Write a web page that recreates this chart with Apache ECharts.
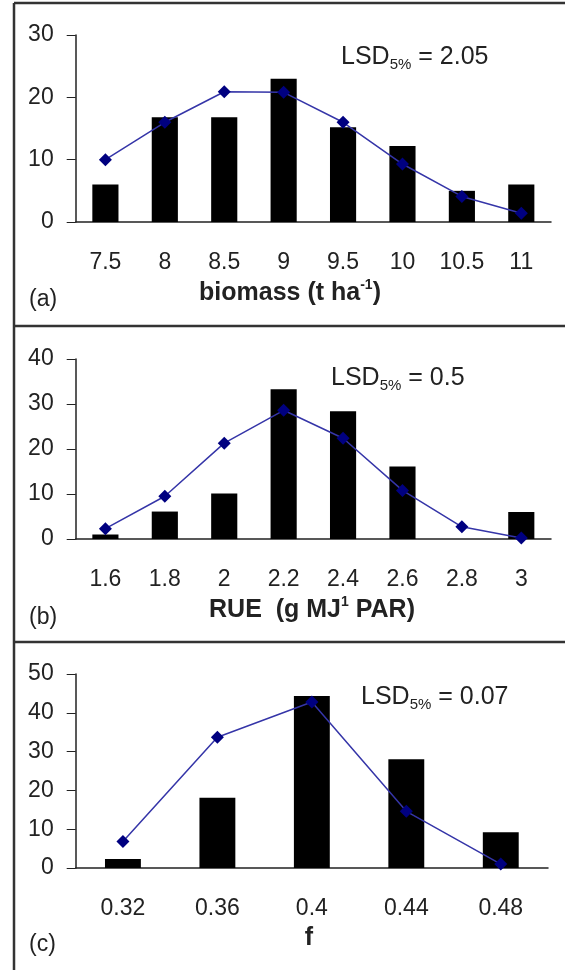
<!DOCTYPE html>
<html>
<head>
<meta charset="utf-8">
<script src="https://cdn.jsdelivr.net/npm/echarts@6/dist/echarts.min.js"></script>
<style>
  html, body { margin: 0; padding: 0; background: #fff; }
  #chart { width: 565px; height: 970px; }
</style>
</head>
<body>
<div id="chart"></div>
<script>
// (a) biomass
const catsA = ['7.5', '8', '8.5', '9', '9.5', '10', '10.5', '11']
const barsA = [6, 16.8, 16.8, 23, 15.2, 12.2, 5, 6]
const lineA = [10, 16, 20.9, 20.8, 16, 9.3, 4.1, 1.4]

// (b) RUE
const catsB = ['1.6', '1.8', '2', '2.2', '2.4', '2.6', '2.8', '3']
const barsB = [1, 6.1, 10.1, 33.3, 28.4, 16.1, 0, 6]
const lineB = [2.3, 9.5, 21.3, 28.6, 22.4, 10.8, 2.7, 0.2]

// (c) f
const catsC = ['0.32', '0.36', '0.4', '0.44', '0.48']
const barsC = [2.3, 18.1, 44.3, 28, 9.2]
const lineC = [6.8, 33.7, 42.8, 14.6, 1]

const yMax = [30, 40, 50]
const lsd = ['2.05', '0.5', '0.07']

const font = 'Liberation Sans, Arial, sans-serif'
const axisColor = '#222'

const chart = echarts.init(document.getElementById('chart'))

function xAxisFor(idx, cats) {
  return {
    type: 'category',
    gridIndex: idx,
    data: cats,
    axisTick: { show: false },
    axisLine: { lineStyle: { color: axisColor, width: 1.5 } },
    axisLabel: { margin: 29, fontSize: 23, fontFamily: font, color: axisColor }
  }
}

function yAxisFor(idx, max) {
  return {
    type: 'value',
    gridIndex: idx,
    min: 0,
    max: max,
    interval: 10,
    splitLine: { show: false },
    axisLine: { show: true, lineStyle: { color: axisColor, width: 1.5 } },
    axisTick: { show: true, length: 9, lineStyle: { color: axisColor } },
    axisLabel: { margin: 22, fontSize: 23, fontFamily: font, color: axisColor }
  }
}

function barSeries(idx, data, width) {
  return {
    type: 'bar',
    xAxisIndex: idx,
    yAxisIndex: idx,
    data: data,
    barWidth: width,
    itemStyle: { color: '#000' },
    silent: true
  }
}

function lineSeries(idx, data) {
  return {
    type: 'line',
    xAxisIndex: idx,
    yAxisIndex: idx,
    data: data,
    symbol: 'diamond',
    symbolSize: 13,
    lineStyle: { color: '#3535a8', width: 1.5 },
    itemStyle: { color: '#000080' },
    z: 5,
    silent: true
  }
}

function txt(x, y, text, opts) {
  return {
    type: 'text',
    x: x,
    y: y,
    style: Object.assign({
      text: text,
      fontFamily: font,
      fontSize: 23,
      fill: axisColor,
      align: 'left',
      verticalAlign: 'middle'
    }, opts || {})
  }
}

const lsdRich = {
  m: { fontSize: 25, fontFamily: font, color: axisColor, lineHeight: 30, verticalAlign: 'middle' },
  s: { fontSize: 15, fontFamily: font, color: axisColor, lineHeight: 30, verticalAlign: 'bottom' }
}
const titleRich = {
  t: { fontSize: 25, fontWeight: 'bold', fontFamily: font, color: '#111', lineHeight: 30, verticalAlign: 'middle' },
  p: { fontSize: 14, fontWeight: 'bold', fontFamily: font, color: '#111', lineHeight: 30, verticalAlign: 'top' }
}

function lsdText(x, y, val) {
  return txt(x, y, '{m|LSD}{s|5%}{m| = ' + val + '}', { rich: lsdRich })
}

const frame = { stroke: '#333', lineWidth: 2.5 }

const option = {
  animation: false,
  grid: [
    { left: 75.7, right: 14, top: 35, height: 187 },
    { left: 75.7, right: 14, top: 359, height: 180 },
    { left: 75.7, right: 17, top: 674, height: 194 }
  ],
  xAxis: [xAxisFor(0, catsA), xAxisFor(1, catsB), xAxisFor(2, catsC)],
  yAxis: [yAxisFor(0, yMax[0]), yAxisFor(1, yMax[1]), yAxisFor(2, yMax[2])],
  series: [
    barSeries(0, barsA, '44%'), lineSeries(0, lineA),
    barSeries(1, barsB, '44%'), lineSeries(1, lineB),
    barSeries(2, barsC, '38%'), lineSeries(2, lineC)
  ],
  graphic: [
    // panel frame
    { type: 'line', shape: { x1: 14, y1: 3, x2: 565, y2: 3 }, style: frame },
    { type: 'line', shape: { x1: 14, y1: 3, x2: 14, y2: 970 }, style: frame },
    { type: 'line', shape: { x1: 14, y1: 326, x2: 565, y2: 326 }, style: frame },
    { type: 'line', shape: { x1: 14, y1: 642, x2: 565, y2: 642 }, style: frame },

    lsdText(341, 57, lsd[0]),
    lsdText(331, 378, lsd[1]),
    lsdText(361, 697, lsd[2]),

    txt(290, 293, '{t|biomass (t ha}{p|-1}{t|)}', { rich: titleRich, align: 'center' }),
    txt(312, 610, '{t|RUE  (g MJ}{p|1}{t| PAR)}', { rich: titleRich, align: 'center' }),
    txt(309, 938, '{t|f}', { rich: titleRich, align: 'center' }),

    txt(29, 300, '(a)'),
    txt(29, 618, '(b)'),
    txt(29, 945, '(c)')
  ]
}

chart.setOption(option)
</script>
</body>
</html>
